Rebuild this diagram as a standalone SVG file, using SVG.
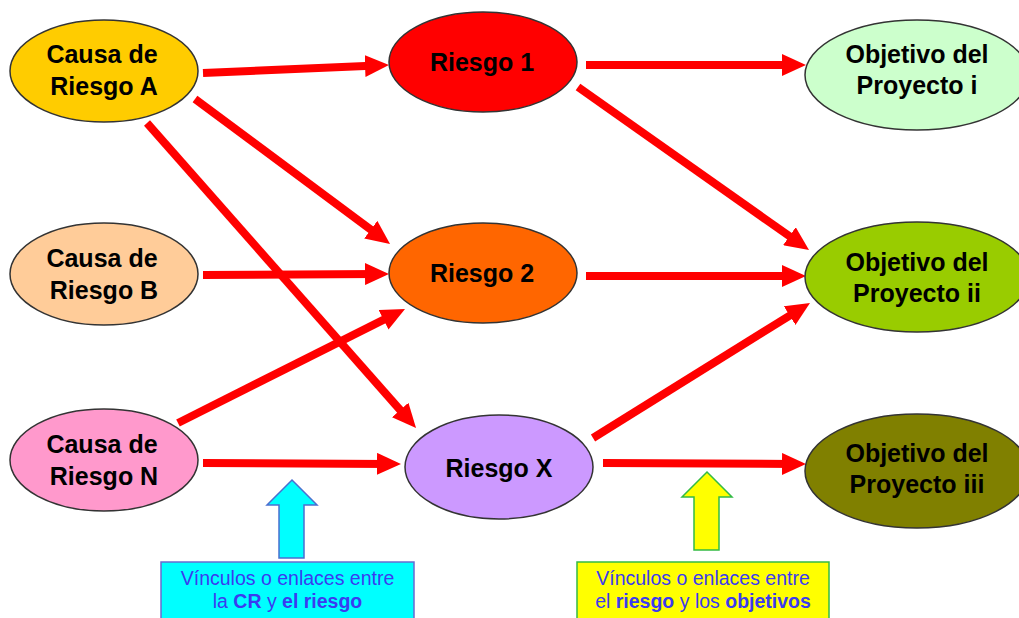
<svg xmlns="http://www.w3.org/2000/svg" width="1019" height="618" viewBox="0 0 1019 618">
<style>
.node ellipse{stroke:#333;stroke-width:1.5}
.lbl{font-family:"Liberation Sans",Arial,sans-serif;font-weight:bold;font-size:25px;fill:#000;text-anchor:middle}
.cap{font-family:"Liberation Sans",Arial,sans-serif;font-size:19.5px;fill:#3b3bf0;text-anchor:middle}
.b{font-weight:bold}
.conn line{stroke:#ff0000;stroke-width:8;marker-end:url(#ah)}
</style>
<defs>
<marker id="ah" markerUnits="userSpaceOnUse" markerWidth="24" markerHeight="22" refX="12" refY="11" orient="auto">
<path d="M0,0 L24,11 L0,22 z" fill="#ff0000"/>
</marker>
</defs>
<rect width="1019" height="618" fill="#fff"/>
<g class="conn" id="connectors">
<line x1="203" y1="73" x2="377" y2="65.5"/>
<line x1="195" y1="99" x2="380.4" y2="236.8"/>
<line x1="147" y1="123" x2="408.1" y2="419"/>
<line x1="203" y1="275" x2="377" y2="274"/>
<line x1="178" y1="423" x2="394.3" y2="314.4"/>
<line x1="203" y1="463" x2="389" y2="463.9"/>
<line x1="586" y1="65" x2="794" y2="65"/>
<line x1="578" y1="87" x2="799.2" y2="243.1"/>
<line x1="586" y1="276" x2="794" y2="276"/>
<line x1="593" y1="438" x2="799.8" y2="309.3"/>
<line x1="603" y1="463" x2="794" y2="464"/>
</g>
<g class="node" id="causaA"><ellipse cx="104" cy="71" rx="94" ry="51" fill="#ffcc00"/><text class="lbl" x="102" y="63">Causa de</text><text class="lbl" x="104" y="95">Riesgo A</text></g>
<g class="node" id="causaB"><ellipse cx="104" cy="274" rx="94" ry="51" fill="#ffcc99"/><text class="lbl" x="102" y="267">Causa de</text><text class="lbl" x="104" y="299">Riesgo B</text></g>
<g class="node" id="causaN"><ellipse cx="104" cy="460" rx="94" ry="51" fill="#ff99cc"/><text class="lbl" x="102" y="453">Causa de</text><text class="lbl" x="104" y="485">Riesgo N</text></g>
<g class="node" id="riesgo1"><ellipse cx="483" cy="62" rx="94" ry="50" fill="#ff0000"/><text class="lbl" x="482" y="71">Riesgo 1</text></g>
<g class="node" id="riesgo2"><ellipse cx="483" cy="273" rx="94" ry="50" fill="#ff6600"/><text class="lbl" x="482" y="282">Riesgo 2</text></g>
<g class="node" id="riesgoX"><ellipse cx="499" cy="467" rx="94" ry="52" fill="#cc99ff"/><text class="lbl" x="499" y="477">Riesgo X</text></g>
<g class="node" id="objI"><ellipse cx="917" cy="75" rx="112" ry="55" fill="#ccffcc"/><text class="lbl" x="917" y="63">Objetivo del</text><text class="lbl" x="917" y="94">Proyecto i</text></g>
<g class="node" id="objII"><ellipse cx="917" cy="277" rx="112" ry="55" fill="#99cc00"/><text class="lbl" x="917" y="271">Objetivo del</text><text class="lbl" x="917" y="302">Proyecto ii</text></g>
<g class="node" id="objIII"><ellipse cx="917" cy="471" rx="112" ry="57" fill="#808000"/><text class="lbl" x="917" y="462">Objetivo del</text><text class="lbl" x="917" y="493">Proyecto iii</text></g>
<g id="noteCR">
<polygon points="292,480 317,505 304,505 304,558 279,558 279,505 267,505" fill="#00ffff" stroke="#4a6fd0" stroke-width="1.5"/>
<rect x="161" y="562" width="253" height="62" fill="#00ffff" stroke="#6a6ad0" stroke-width="1.5"/>
<text class="cap" x="287.5" y="585">Vínculos o enlaces entre</text>
<text class="cap" x="287.5" y="608">la <tspan class="b">CR</tspan> y <tspan class="b">el riesgo</tspan></text>
</g>
<g id="noteObj">
<polygon points="707,472 732,497 719,497 719,550 694,550 694,497 682,497" fill="#ffff00" stroke="#33bb44" stroke-width="1.5"/>
<rect x="577" y="562" width="252" height="62" fill="#ffff00" stroke="#33bb44" stroke-width="1.5"/>
<text class="cap" x="703" y="585">Vínculos o enlaces entre</text>
<text class="cap" x="703" y="608">el <tspan class="b">riesgo</tspan> y los <tspan class="b">objetivos</tspan></text>
</g>
</svg>
